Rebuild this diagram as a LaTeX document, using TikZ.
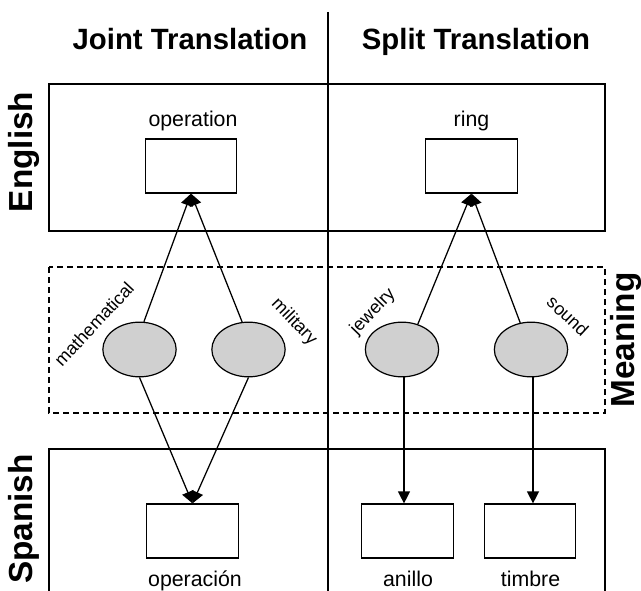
\documentclass[tikz,border=0pt]{standalone}
\usepackage{fontspec}
\setmainfont{Liberation Sans}
\usetikzlibrary{arrows.meta,shapes.geometric,calc}
\definecolor{ellgray}{HTML}{D0D0D0}
\begin{document}
\begin{tikzpicture}[x=0.75pt,y=-0.75pt,
  frame/.style={draw,line width=0.9pt},
  wordbox/.style={draw,line width=0.9pt,minimum width=68.5pt,minimum height=40.5pt,inner sep=0pt},
  sense/.style={ellipse,draw,line width=0.9pt,fill=ellgray,minimum width=55pt,minimum height=41pt,inner sep=0pt},
  title/.style={font=\fontsize{22}{26}\selectfont\bfseries,anchor=base},
  side/.style={font=\fontsize{25}{30}\selectfont\bfseries,rotate=90},
  word/.style={font=\fontsize{16}{19}\selectfont,anchor=base},
  senselabel/.style={font=\fontsize{13.5}{16}\selectfont},
  conn/.style={line width=0.95pt},
  tip/.style={-{Triangle[length=9pt,width=9pt]}}
]
\useasboundingbox (0,0) rectangle (641,591);
\clip (0,0) rectangle (641,591);
% titles and divider
\node[title] (tj) at (190,50) {Joint Translation};
\node[title] (ts) at (476,50) {Split Translation};
\coordinate (dtop) at (328,12);
\coordinate (dbot) at (328,600);
\draw[frame] (dtop) -- (dbot);
% frames
\draw[frame] (49,84) rectangle (605,231);
\draw[frame,dash pattern=on 4.5pt off 3pt] (49,267) rectangle (605,413);
\draw[frame] (49,449) rectangle (605,620);
% side labels
\node[side] (en) at (24,152) {English};
\node[side] (sp) at (24,519) {Spanish};
\node[side] (me) at (626,340) {Meaning};
% word boxes
\node[wordbox] (op) at (191,166) {};
\node[wordbox] (ring) at (471.5,166) {};
\node[wordbox] (opes) at (192.5,531) {};
\node[wordbox] (anillo) at (407.5,531) {};
\node[wordbox] (timbre) at (530,531) {};
\node[word] (lop) at (193,127) {operation};
\node[word] (lring) at (471.5,127) {ring};
\node[word] (lopes) at (195,586) {operación};
\node[word] (lanillo) at (408,586) {anillo};
\node[word] (ltimbre) at (530.5,586) {timbre};
% senses
\node[sense] (m) at (139.5,349.5) {};
\node[sense] (mil) at (248.5,349.5) {};
\node[sense] (j) at (402,349.5) {};
\node[sense] (s) at (531,349.5) {};
\node[senselabel,rotate=47] (lm) at (94,324) {mathematical};
\node[senselabel,rotate=-46] (lmil) at (294,322) {military};
\node[senselabel,rotate=46] (lj) at (373,312) {jewelry};
\node[senselabel,rotate=-43] (ls) at (568,316) {sound};
% connectors
\coordinate (jb) at ($(j.south)+(2,0)$);
\coordinate (sb) at ($(s.south)+(2,0)$);
\draw[conn,tip] (m.81) -- (op.south);
\draw[conn,tip] (mil.103) -- (op.south);
\draw[conn,tip] (j.58) -- (ring.south);
\draw[conn,tip] (s.112) -- (ring.south);
\draw[conn,tip] (m.south) -- (opes.north);
\draw[conn,tip] (mil.south) -- (opes.north);
\draw[conn,tip] (jb) -- (jb |- anillo.north);
\draw[conn,tip] (sb) -- (sb |- timbre.north);
\end{tikzpicture}
\end{document}
